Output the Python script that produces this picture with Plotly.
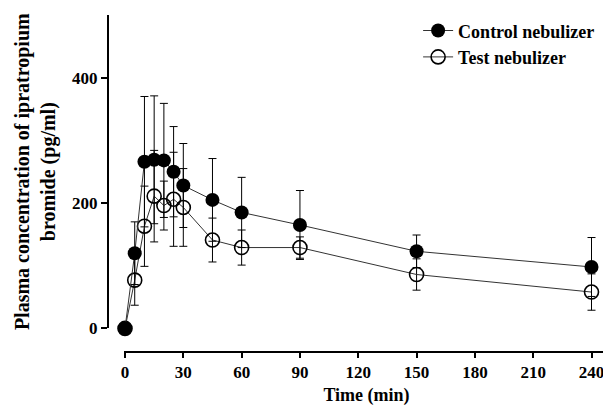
import plotly.graph_objects as go

# temps de prelevement (min)
times = [0, 5, 10, 15, 20, 25, 30, 45, 60, 90, 150, 240]

# concentrations plasmatiques (pg/ml), moyenne et ecart-type
control = [0, 120, 266, 269, 268, 250, 228, 205, 185, 165, 123, 98]
control_sd = [0, 50, 104, 102, 91, 72, 67, 66, 56, 55, 26, 47]
test = [0, 77, 163, 211, 196, 206, 193, 141, 129, 129, 86, 58]
test_sd = [0, 40, 64, 73, 39, 75, 62, 35, 28, 17, 25, 29]

x_ticks = [0, 30, 60, 90, 120, 150, 180, 210, 240]
y_ticks = [0, 200, 400]

serif = "Liberation Serif, Times New Roman, serif"

fig = go.Figure()

# test en premier pour que le point plein du controle passe dessus a t=0
fig.add_trace(go.Scatter(
    x=times, y=test, name="Test nebulizer", mode="lines+markers",
    line=dict(color="#333333", width=1),
    marker=dict(symbol="circle-open", size=14, color="black", line=dict(width=1.6)),
    error_y=dict(type="data", array=test_sd, color="black", thickness=1, width=4),
    cliponaxis=False, legendrank=2,
))
fig.add_trace(go.Scatter(
    x=times, y=control, name="Control nebulizer", mode="lines+markers",
    line=dict(color="#333333", width=1),
    marker=dict(symbol="circle", size=14, color="black"),
    error_y=dict(type="data", array=control_sd, color="black", thickness=1, width=4),
    cliponaxis=False, legendrank=1,
))

# la page html a une marge de 8px, d'ou 603x401
fig.update_layout(
    width=603, height=401,
    margin=dict(l=100, r=2, t=7, b=57),
    plot_bgcolor="white", paper_bgcolor="white",
    font=dict(family=serif, color="black", size=17),
    showlegend=True,
    legend=dict(x=0.619, y=1.008, xanchor="left", yanchor="top",
                font=dict(family=serif, size=18, color="black", weight="bold"),
                bgcolor="rgba(0,0,0,0)", itemwidth=30, tracegroupgap=0),
    xaxis=dict(
        domain=[0.032, 1], range=[-0.5, 249],
        anchor="free", position=0, automargin=False,
        tickvals=x_ticks, ticktext=[str(t) for t in x_ticks],
        showgrid=False, zeroline=False,
        showline=True, linecolor="black", linewidth=2,
        ticks="outside", ticklen=5, tickwidth=2, tickcolor="black",
        tickfont=dict(family=serif, size=17, weight="bold"),
        title=dict(text="Time (min)", font=dict(family=serif, size=18, weight="bold"), standoff=6),
    ),
    yaxis=dict(
        domain=[0.07, 1], range=[0, 500],
        anchor="free", position=0, automargin=False,
        tickvals=y_ticks, ticktext=[str(t) for t in y_ticks],
        showgrid=False, zeroline=False,
        showline=True, linecolor="black", linewidth=2,
        ticks="outside", ticklen=6, tickwidth=2, tickcolor="black",
        tickfont=dict(family=serif, size=17, weight="bold"),
        title=dict(text="Plasma concentration of ipratropium<br>bromide (pg/ml)",
                   font=dict(family=serif, size=20, weight="bold"), standoff=10),
    ),
)

fig.write_html("out.html")
